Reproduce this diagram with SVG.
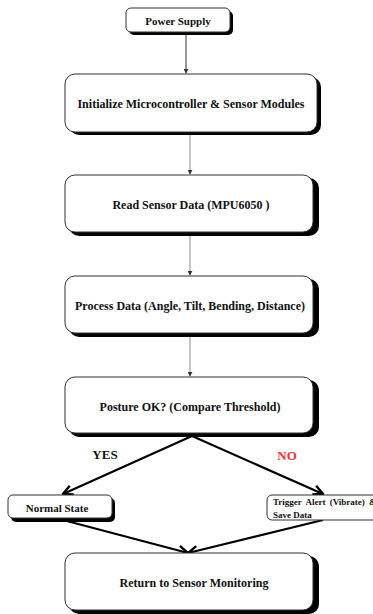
<svg xmlns="http://www.w3.org/2000/svg" width="373" height="614" viewBox="0 0 373 614">
<style>
.box{fill:#fff;stroke:#333;stroke-width:1}
.sh{fill:#000}
.t{font-family:"Liberation Serif","Times New Roman",serif;font-weight:bold;fill:#111;text-anchor:middle;dominant-baseline:central}
.thin{stroke:#888;stroke-width:1;fill:none}
.thick{stroke:#000;stroke-width:2.2;fill:none}
</style>
<defs>
<marker id="tri" viewBox="0 0 6 6" refX="5" refY="3" markerWidth="5" markerHeight="5" markerUnits="userSpaceOnUse" orient="auto"><path d="M0,0 L6,3 L0,6 Z" fill="#333"/></marker>
<marker id="vee" viewBox="0 0 10 10" refX="9" refY="5" markerWidth="12" markerHeight="12" markerUnits="userSpaceOnUse" orient="auto"><path d="M1,1 L9,5 L1,9" fill="none" stroke="#000" stroke-width="2"/></marker>
</defs>
<rect width="373" height="614" fill="#fff"/>
<g id="connectors">
<line x1="186" y1="33" x2="186" y2="73" stroke="#333" stroke-width="1" marker-end="url(#tri)"/>
<line x1="190" y1="133" x2="190" y2="174" class="thin" marker-end="url(#tri)"/>
<line x1="190" y1="234" x2="190" y2="275" class="thin" marker-end="url(#tri)"/>
<line x1="190" y1="335" x2="190" y2="376" class="thin" marker-end="url(#tri)"/>
<line x1="192" y1="436" x2="63" y2="494" class="thick" marker-end="url(#vee)"/>
<line x1="192" y1="436" x2="323" y2="494" class="thick" marker-end="url(#vee)"/>
<line x1="63" y1="520" x2="188" y2="553" class="thick" marker-end="url(#vee)"/>
<line x1="323" y1="520" x2="188" y2="553" class="thick" marker-end="url(#vee)"/>
<text x="105" y="454" class="t" font-size="13">YES</text>
<text x="287" y="455" class="t" font-size="13" style="fill:#ee3333">NO</text>
</g>
<g id="power">
<rect x="129" y="11" width="104" height="24" rx="5" class="sh"/>
<rect x="126" y="8" width="104" height="24" rx="5" class="box"/>
<text x="178" y="21" class="t" font-size="11">Power Supply</text>
</g>
<g id="init">
<rect x="69" y="77" width="252" height="58" rx="10" class="sh"/>
<rect x="65" y="74" width="252" height="58" rx="10" class="box"/>
<text x="191" y="104" class="t" font-size="12">Initialize Microcontroller &amp; Sensor Modules</text>
</g>
<g id="read">
<rect x="69" y="178" width="250" height="58" rx="10" class="sh"/>
<rect x="65" y="175" width="248" height="57" rx="10" class="box"/>
<text x="191" y="205" class="t" font-size="12">Read Sensor Data (MPU6050 )</text>
</g>
<g id="process">
<rect x="69" y="279" width="250" height="58" rx="10" class="sh"/>
<rect x="65" y="276" width="248" height="57" rx="10" class="box"/>
<text x="190" y="306" class="t" font-size="12">Process Data (Angle, Tilt, Bending, Distance)</text>
</g>
<g id="posture">
<rect x="69" y="380" width="250" height="57" rx="10" class="sh"/>
<rect x="65" y="377" width="248" height="56" rx="10" class="box"/>
<text x="190" y="407" class="t" font-size="12">Posture OK? (Compare Threshold)</text>
</g>
<g id="normal">
<rect x="11" y="498" width="104" height="24" rx="5" class="sh"/>
<rect x="8" y="495" width="104" height="23" rx="5" class="box"/>
<text x="57" y="508" class="t" font-size="11">Normal State</text>
</g>
<g id="trigger">
<rect x="267" y="495" width="120" height="25" rx="5" class="box"/>
<text x="273" y="502" class="t" font-size="9" style="text-anchor:start" word-spacing="2">Trigger Alert (Vibrate) &amp;</text>
<text x="273" y="515" class="t" font-size="9" style="text-anchor:start">Save Data</text>
</g>
<g id="return">
<rect x="69" y="556" width="250" height="58" rx="10" class="sh"/>
<rect x="65" y="553" width="248" height="57" rx="10" class="box"/>
<text x="194" y="583" class="t" font-size="12">Return to Sensor Monitoring</text>
</g>
</svg>
